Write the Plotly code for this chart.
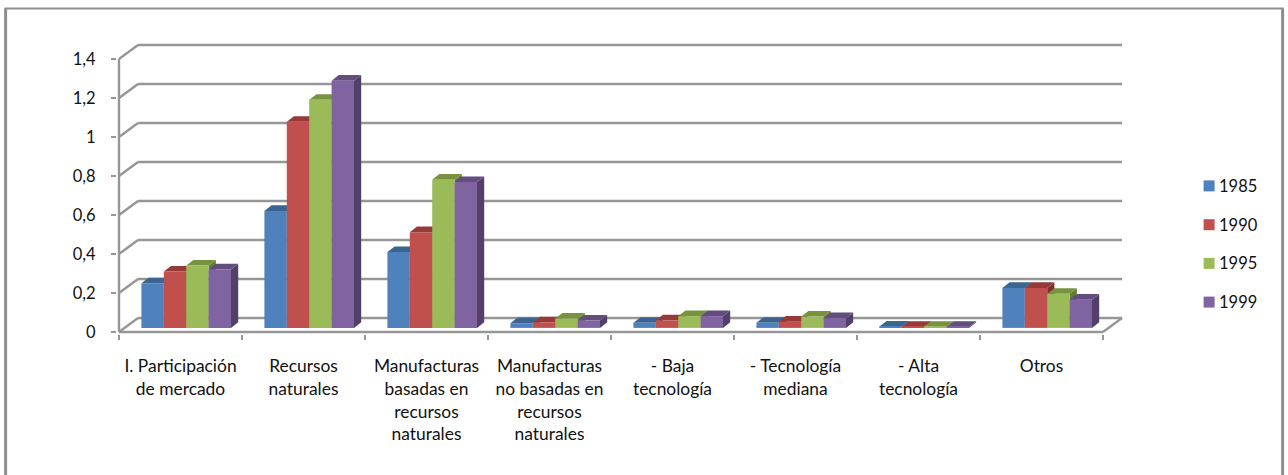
import plotly.graph_objects as go

# Chart data
categories = [
    "I. Participación<br>de mercado",
    "Recursos<br>naturales",
    "Manufacturas<br>basadas en<br>recursos<br>naturales",
    "Manufacturas<br>no basadas en<br>recursos<br>naturales",
    "- Baja<br>tecnología",
    "- Tecnología<br>mediana",
    "- Alta<br>tecnología",
    "Otros",
]
series_names = ["1985", "1990", "1995", "1999"]
values_1985 = [0.229, 0.60, 0.389, 0.024, 0.026, 0.026, 0.007, 0.205]
values_1990 = [0.289, 1.057, 0.491, 0.029, 0.039, 0.032, 0.006, 0.205]
values_1995 = [0.32, 1.17, 0.76, 0.048, 0.06, 0.058, 0.006, 0.175]
values_1999 = [0.30, 1.268, 0.748, 0.038, 0.06, 0.05, 0.005, 0.145]
all_values = [values_1985, values_1990, values_1995, values_1999]

y_ticks = [0, 0.2, 0.4, 0.6, 0.8, 1.0, 1.2, 1.4]
y_labels = ["0", "0,2", "0,4", "0,6", "0,8", "1", "1,2", "1,4"]

# Face colours: front, top, side
front_colors = ["#4F81BD", "#C0504D", "#9BBB59", "#8064A2"]
top_colors = ["#3A6593", "#953A38", "#77933F", "#634D7E"]
side_colors = ["#2F5480", "#7F302E", "#637C34", "#523F6A"]
GRID = "#969696"
TEXT = "#111111"

# Canvas and scale
W, H = 1288, 475
PX_X = 123.0          # pixels per category
PX_Y = 195.0          # pixels per unit of value
LEFT, ZERO = 119.4, 331.6
WALL_DX, WALL_DY = 19 / PX_X, 14 / PX_Y     # floor depth in data units
BAR_W = 22.4 / PX_X
BAR_START = 22.4 / PX_X
BAR_BASE = 4.1 / PX_Y
BAR_DX, BAR_DY = 7.2 / PX_X, 5.6 / PX_Y     # bar depth in data units
PAD_X, PAD_Y = 2 / PX_X, 2 / PX_Y
N = len(categories)

x_range = [-PAD_X, N + WALL_DX + PAD_X]
y_range = [-PAD_Y, 1.4 + WALL_DY + PAD_Y]
m_l = LEFT - PAD_X * PX_X
m_r = W - (LEFT + x_range[1] * PX_X)
m_b = H - (ZERO + PAD_Y * PX_Y)
m_t = ZERO - y_range[1] * PX_Y


def grid_line(x0, y0, x1, y1):
    return dict(type="line", xref="x", yref="y", x0=x0, y0=y0, x1=x1, y1=y1,
                layer="below", line=dict(color=GRID, width=2.4))


def paper_x(px):
    return (px - m_l) / (W - m_l - m_r)


def paper_y(px):
    return (H - m_b - px) / (H - m_t - m_b)


shapes = []
annotations = []
for v in y_ticks:
    # back wall gridline and the slanted side-wall segment leading to it
    shapes.append(grid_line(WALL_DX, v + WALL_DY, N + WALL_DX, v + WALL_DY))
    shapes.append(grid_line(0, v, WALL_DX, v + WALL_DY))
shapes.append(grid_line(0, 0, 0, 1.4))
shapes.append(grid_line(0, 0, N, 0))
shapes.append(grid_line(N, 0, N + WALL_DX, WALL_DY))

# Outer chart frame, open at the bottom of the page
for x0, y0, x1, y1, w in [(6, 8, 6, 480, 3), (5, 8, 1284, 8, 2), (1283, 8, 1283, 480, 3)]:
    shapes.append(dict(type="line", xref="paper", yref="paper",
                       x0=paper_x(x0), y0=paper_y(y0), x1=paper_x(x1), y1=paper_y(y1),
                       line=dict(color="#8F8F8F", width=w)))

# Series key: colour squares with their year beside them
key_rows = [185.5, 224.3, 263, 301.7]
for s, name in enumerate(series_names):
    cy = key_rows[s]
    shapes.append(dict(type="rect", xref="paper", yref="paper",
                       x0=paper_x(1204), x1=paper_x(1215),
                       y0=paper_y(cy - 5.5), y1=paper_y(cy + 5.5),
                       fillcolor=front_colors[s], line=dict(width=0)))
    annotations.append(dict(xref="paper", yref="paper", x=paper_x(1220), y=paper_y(cy),
                            text=name, showarrow=False, xanchor="left", yanchor="middle",
                            xshift=-3, font=dict(size=16.5, color=TEXT)))

fig = go.Figure()

# Side and top faces sit on the base axes, underneath the front faces
for s, vals in enumerate(all_values):
    for c, v in enumerate(vals):
        x_l = c + BAR_START + s * BAR_W
        x_r = x_l + BAR_W
        top = BAR_BASE + v
        fig.add_trace(go.Scatter(
            x=[x_r, x_r + BAR_DX, x_r + BAR_DX, x_r, x_r],
            y=[BAR_BASE, BAR_BASE + BAR_DY, top + BAR_DY, top, BAR_BASE],
            mode="lines", fill="toself", fillcolor=side_colors[s],
            line=dict(width=0), showlegend=False, hoverinfo="skip"))
        fig.add_trace(go.Scatter(
            x=[x_l, x_l + BAR_DX, x_r + BAR_DX, x_r, x_l],
            y=[top, top + BAR_DY, top + BAR_DY, top, top],
            mode="lines", fill="toself", fillcolor=top_colors[s],
            line=dict(width=0), showlegend=False, hoverinfo="skip"))

# Front faces on an overlaid pair of axes
for s, vals in enumerate(all_values):
    fig.add_trace(go.Bar(
        x=[c + BAR_START + (s + 0.5) * BAR_W for c in range(N)],
        y=vals, base=BAR_BASE, width=BAR_W, name=series_names[s],
        marker=dict(color=front_colors[s], line=dict(width=0)),
        xaxis="x2", yaxis="y2", showlegend=False))

fig.update_layout(
    width=W, height=H, autosize=False,
    margin=dict(l=m_l, r=m_r, t=m_t, b=m_b, pad=0, autoexpand=False),
    paper_bgcolor="white", plot_bgcolor="white",
    font=dict(family="Lato, Carlito, sans-serif", size=16, color=TEXT),
    barmode="overlay", shapes=shapes, annotations=annotations, showlegend=False,
    xaxis=dict(range=x_range, showgrid=False, zeroline=False, showline=False,
               tickmode="array", tickvals=[c + 0.5 for c in range(N)],
               ticktext=categories,
               ticks="", tickangle=0, tickfont=dict(size=17.4, color=TEXT), ticklabelstandoff=20,
               minor=dict(tickmode="array", tickvals=list(range(N + 1)), ticks="outside",
                          ticklen=5, tickwidth=2.4, tickcolor=GRID, showgrid=False)),
    yaxis=dict(range=y_range, showgrid=False, zeroline=False, showline=False,
               tickmode="array", tickvals=y_ticks, ticktext=y_labels,
               ticks="outside", ticklen=5, tickwidth=2.4, tickcolor=GRID,
               tickfont=dict(size=16.5, color=TEXT), ticklabelstandoff=12),
    xaxis2=dict(range=x_range, overlaying="x", visible=False),
    yaxis2=dict(range=y_range, overlaying="y", visible=False),
)

fig.write_html("out.html")
